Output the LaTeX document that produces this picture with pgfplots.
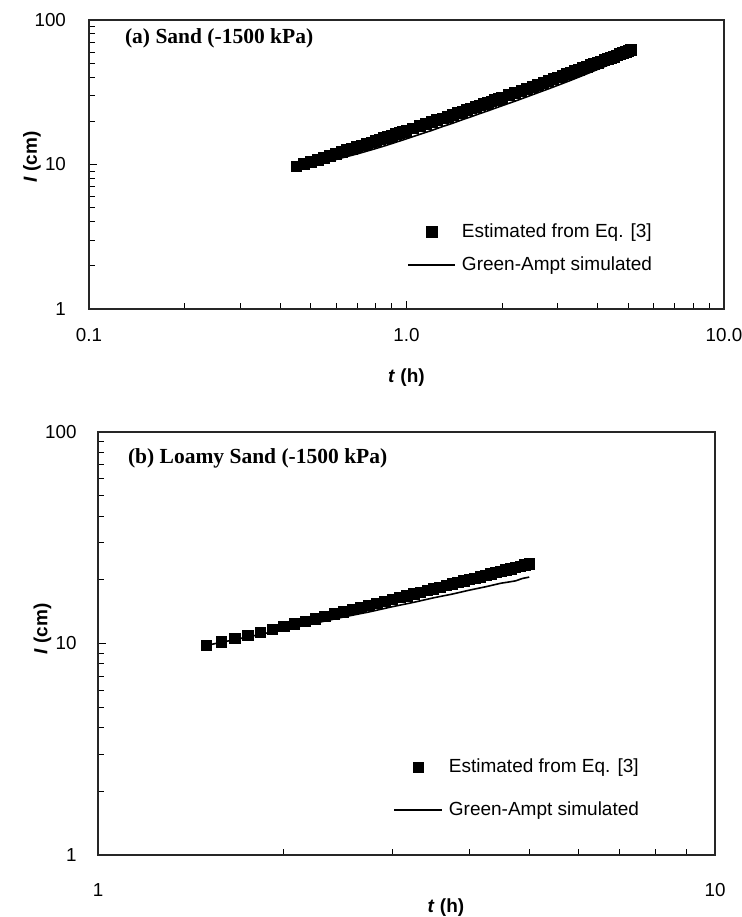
\documentclass[border=0pt]{standalone}
\usepackage{fontspec}
\setmainfont{Liberation Sans}
\newfontfamily\timesfont{Liberation Serif}
\usepackage{pgfplots}
\usepackage{pgfplotstable}
\pgfplotsset{compat=1.18}

\pgfplotstableread{
t I
0.45 9.70
0.475 10.07
0.5 10.43
0.525 10.79
0.55 11.15
0.575 11.50
0.6 11.85
0.625 12.20
0.65 12.55
0.675 12.89
0.7 13.23
0.725 13.57
0.75 13.90
0.775 14.24
0.8 14.57
0.825 14.90
0.85 15.22
0.875 15.55
0.9 15.87
0.925 16.19
0.95 16.51
0.975 16.83
1.0 17.15
1.05 17.78
1.1 18.41
1.15 19.03
1.2 19.64
1.25 20.26
1.3 20.86
1.35 21.47
1.4 22.07
1.45 22.67
1.5 23.26
1.55 23.85
1.6 24.44
1.65 25.02
1.7 25.61
1.75 26.19
1.8 26.76
1.85 27.34
1.9 27.91
1.95 28.48
2.0 29.05
2.1 30.18
2.2 31.31
2.3 32.43
2.4 33.54
2.5 34.64
2.6 35.74
2.7 36.84
2.8 37.93
2.9 39.01
3.0 40.09
3.1 41.17
3.2 42.24
3.3 43.30
3.4 44.37
3.5 45.43
3.6 46.49
3.7 47.54
3.8 48.59
3.9 49.64
4.0 50.68
4.1 51.72
4.2 52.76
4.3 53.80
4.4 54.83
4.5 55.86
4.6 56.89
4.7 57.92
4.8 58.94
4.9 59.97
5.0 60.99
5.1 62.00
}\sandest

\pgfplotstableread{
t I
0.45 9.55
0.5 10.01
0.55 10.43
0.6 10.84
0.65 11.36
0.7 11.84
0.75 12.37
0.8 12.89
0.85 13.42
0.9 13.97
1.0 15.06
1.1 16.16
1.2 17.20
1.3 18.32
1.4 19.33
1.5 20.42
1.6 21.43
1.7 22.49
1.8 23.47
2.0 25.51
2.2 27.46
2.4 29.45
2.6 31.45
2.8 33.38
3.0 35.36
3.3 38.32
3.6 41.38
4.0 45.51
4.4 49.62
4.8 53.93
5.1 57.35
}\sandga

\pgfplotstableread{
t I
1.5 9.80
1.5833 10.18
1.6667 10.55
1.75 10.92
1.8333 11.29
1.9167 11.66
2.0 12.02
2.0833 12.37
2.1667 12.73
2.25 13.08
2.3333 13.43
2.4167 13.78
2.5 14.12
2.5833 14.47
2.6667 14.81
2.75 15.15
2.8333 15.49
2.9167 15.82
3.0 16.16
3.0833 16.49
3.1667 16.82
3.25 17.15
3.3333 17.48
3.4167 17.80
3.5 18.13
3.5833 18.45
3.6667 18.78
3.75 19.10
3.8333 19.42
3.9167 19.74
4.0 20.06
4.0833 20.37
4.1667 20.69
4.25 21.01
4.3333 21.32
4.4167 21.63
4.5 21.95
4.5833 22.26
4.6667 22.57
4.75 22.88
4.8333 23.19
4.9167 23.50
5.0 23.80
}\loamyest

\pgfplotstableread{
t I
1.5 9.80
1.75 10.74
2.0 11.64
2.25 12.48
2.5 13.35
2.75 14.10
3.0 14.93
3.25 15.66
3.5 16.45
3.75 17.12
4.0 17.88
4.25 18.55
4.5 19.28
4.625 19.52
4.75 19.78
4.875 20.30
5.0 20.61
}\loamyga

\begin{document}
\begin{tikzpicture}
\useasboundingbox (0,0) rectangle (371pt,458.5pt);

\begin{axis}[
  scale only axis,
  xmode=log, ymode=log,
  at={(44.5pt,304pt)}, anchor=south west,
  width=317.5pt, height=144.5pt,
  axis line style={line width=0.6pt, black!85},
  tick align=inside,
  tick pos=left,
  major tick length=4pt,
  minor tick length=3pt,
  every tick/.append style={black, line width=0.5pt},
  tick label style={font=\fontsize{9.4}{11}\selectfont},
  label style={font=\bfseries\fontsize{9.5}{11}\selectfont},
  ymin=1, ymax=100,
  ytick={1,10,100},
  yticklabels={1,10,100},
  minor ytick={2,3,4,5,6,7,8,9,20,30,40,50,60,70,80,90},
  ylabel={\textit{I} (cm)},
  xmin=0.1, xmax=10,
  xtick={0.1,1,10},
  xticklabels={0.1,1.0,10.0},
  minor xtick={0.2,0.3,0.4,0.5,0.6,0.7,0.8,0.9,2,3,4,5,6,7,8,9},
  xticklabel style={yshift=-6pt},
  yticklabel style={xshift=-8pt},
  xlabel={\textit{t} (h)},
  xlabel style={at={(axis description cs:0.5,-0.239)}, anchor=center},
  ylabel style={at={(axis description cs:-0.09,0.526)}, anchor=center},
  legend cell align=left,
  legend image code/.code={\draw[mark repeat=2,mark phase=2] plot coordinates {(0pt,0pt)(11.75pt,0pt)(23.5pt,0pt)};},
  legend style={draw=none, fill=none, at={(axis description cs:0.5008,0.298)}, anchor=north west,
    font=\fontsize{9.5}{11}\selectfont, inner sep=0pt, row sep=7.5pt, column sep=3pt,
    nodes={inner sep=0pt, text height=7pt, text depth=2pt}},
]
\addplot[only marks, mark=square*, mark size=2.7pt, black] table[x=t,y=I] {\sandest};
\addlegendentry{Estimated from Eq. [3]}
\addplot[black, line width=0.8pt, no marks] table[x=t,y=I] {\sandga};
\addlegendentry{Green-Ampt simulated}
\node[anchor=west, font=\timesfont\bfseries\fontsize{10.75}{13}\selectfont] at (axis description cs:0.0457,0.935) {(a) Sand (-1500 kPa)};
\end{axis}

\begin{axis}[
  scale only axis,
  xmode=log, ymode=log,
  at={(49pt,31pt)}, anchor=south west,
  width=308.5pt, height=211.5pt,
  axis line style={line width=0.6pt, black!85},
  tick align=inside,
  tick pos=left,
  major tick length=4pt,
  minor tick length=3pt,
  every tick/.append style={black, line width=0.5pt},
  tick label style={font=\fontsize{9.4}{11}\selectfont},
  label style={font=\bfseries\fontsize{9.5}{11}\selectfont},
  ymin=1, ymax=100,
  ytick={1,10,100},
  yticklabels={1,10,100},
  minor ytick={2,3,4,5,6,7,8,9,20,30,40,50,60,70,80,90},
  ylabel={\textit{I} (cm)},
  xmin=1, xmax=10,
  xtick={1,10},
  xticklabels={1,10},
  minor xtick={2,3,4,5,6,7,8,9},
  xticklabel style={yshift=-10.5pt},
  yticklabel style={xshift=-7.2pt},
  xlabel={\textit{t} (h)},
  xlabel style={at={(axis description cs:0.564,-0.125)}, anchor=center},
  ylabel style={at={(axis description cs:-0.09,0.534)}, anchor=center},
  legend cell align=left,
  legend image code/.code={\draw[mark repeat=2,mark phase=2] plot coordinates {(0pt,0pt)(12pt,0pt)(24pt,0pt)};},
  legend style={draw=none, fill=none, at={(axis description cs:0.478,0.230)}, anchor=north west,
    font=\fontsize{9.5}{11}\selectfont, inner sep=0pt, row sep=12.5pt, column sep=3pt,
    nodes={inner sep=0pt, text height=7pt, text depth=2pt}},
]
\addplot[only marks, mark=square*, mark size=2.6pt, black] table[x=t,y=I] {\loamyest};
\addlegendentry{Estimated from Eq. [3]}
\addplot[black, line width=0.8pt, no marks] table[x=t,y=I] {\loamyga};
\addlegendentry{Green-Ampt simulated}
\node[anchor=west, font=\timesfont\bfseries\fontsize{10.75}{13}\selectfont] at (axis description cs:0.0373,0.937) {(b) Loamy Sand (-1500 kPa)};
\end{axis}
\end{tikzpicture}
\end{document}
